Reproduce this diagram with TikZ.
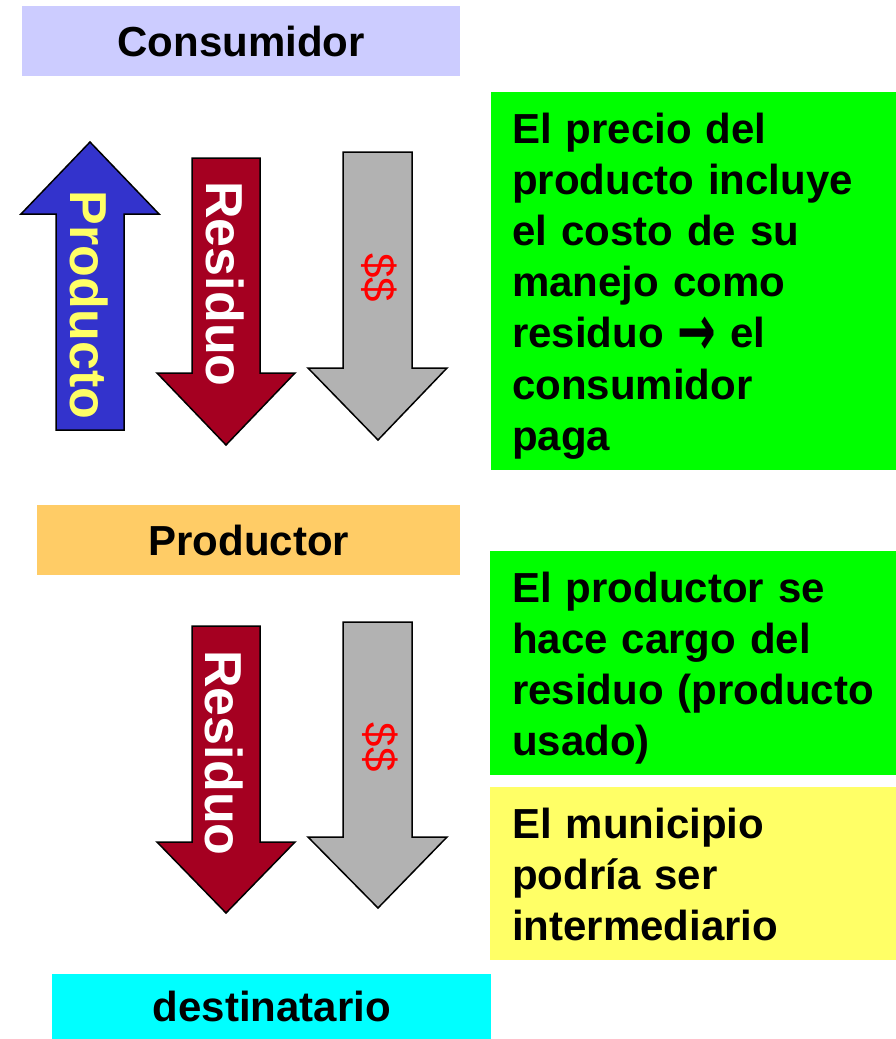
\documentclass[tikz,border=0pt]{standalone}
\usepackage{fontspec}
\setmainfont{Liberation Sans}
\newfontfamily\arrowfont{DejaVu Sans}
\definecolor{lav}{HTML}{CCCCFF}
\definecolor{orng}{HTML}{FFCC66}
\definecolor{cyn}{HTML}{00FFFF}
\definecolor{grn}{HTML}{00FF00}
\definecolor{ylw}{HTML}{FFFF66}
\definecolor{blu}{HTML}{3333CC}
\definecolor{wine}{HTML}{A50021}
\definecolor{gry}{HTML}{B2B2B2}
\definecolor{txtylw}{HTML}{FFFF66}
\begin{document}
\begin{tikzpicture}[x=1pt,y=-1pt,
  big/.style={font=\fontsize{42}{51.2}\selectfont\bfseries},
  hdrbox/.style={big,inner sep=0pt,anchor=north west,text=black},
  infobox/.style={inner sep=0pt,anchor=north west},
  infotext/.style={big,inner sep=0pt,anchor=base west,text width=380pt,align=left},
  arrowbody/.style={draw=black,line width=1.5pt,line join=miter},
  arrowlabel/.style={font=\fontsize{52}{52}\selectfont\bfseries,rotate=-90,inner sep=0pt},
  moneylabel/.style={font=\fontsize{44}{44}\selectfont,text=red,rotate=-90,inner sep=0pt}]
\useasboundingbox (0,0) rectangle (896,1039);
% header boxes
\node[hdrbox,fill=lav,minimum width=438pt,minimum height=70pt] (consumidor) at (22,6) {Consumidor};
\node[hdrbox,fill=orng,minimum width=423pt,minimum height=70pt] (productor) at (37,505) {Productor};
\node[hdrbox,fill=cyn,minimum width=439pt,minimum height=65pt] (destinatario) at (52,974) {destinatario};
% info boxes
\node[infobox,fill=grn,minimum width=405pt,minimum height=378pt] (g1) at (491,92) {};
\node[infotext] (g1t) at (512,143) {El precio del\\producto incluye\\el costo de su\\manejo como\\residuo \raisebox{-8pt}[22pt][0pt]{\scalebox{1.1}[1.7]{\arrowfont\bfseries →}} el\\consumidor\\paga};
\node[infobox,fill=grn,minimum width=406pt,minimum height=224pt] (g2) at (490,551) {};
\node[infotext] (g2t) at (512,602) {El productor se\\hace cargo del\\residuo (producto\\usado)};
\node[infobox,fill=ylw,minimum width=406pt,minimum height=173pt] (y1) at (490,787) {};
\node[infotext] (y1t) at (512,838) {El municipio\\podría ser\\intermediario};
% arrows upper
\draw[arrowbody,fill=blu] (56,430) -- (56,214) -- (21,214) -- (90,142) -- (159,214) -- (124,214) -- (124,430) -- cycle;
\node[arrowlabel,text=txtylw] (producto) at (89,305) {Producto};
\draw[arrowbody,fill=wine] (192,158) -- (260,158) -- (260,373) -- (295,373) -- (226,445) -- (157,373) -- (192,373) -- cycle;
\node[arrowlabel,text=white] (residuo1) at (225,284) {Residuo};
\draw[arrowbody,fill=gry] (343,152) -- (412,152) -- (412,368) -- (447,368) -- (378,440) -- (308,368) -- (343,368) -- cycle;
\node[moneylabel] (money1) at (379,278) {\$\$};
% arrows lower
\draw[arrowbody,fill=wine] (192,626) -- (260,626) -- (260,842) -- (295,842) -- (226,913) -- (157,842) -- (192,842) -- cycle;
\node[arrowlabel,text=white] (residuo2) at (224,753) {Residuo};
\draw[arrowbody,fill=gry] (343,622) -- (412,622) -- (412,837) -- (447,837) -- (378,908) -- (308,837) -- (343,837) -- cycle;
\node[moneylabel] (money2) at (380,747) {\$\$};
\end{tikzpicture}
\end{document}
